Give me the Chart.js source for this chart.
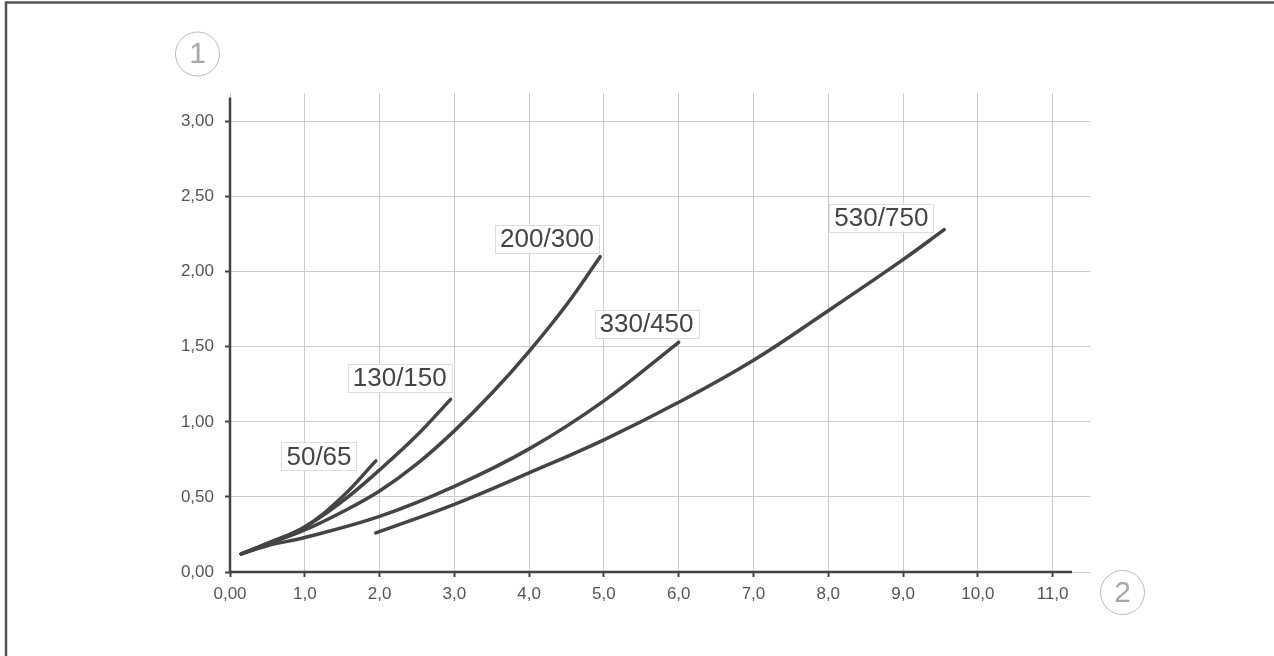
<!DOCTYPE html>
<html>
<head>
<meta charset="utf-8">
<style>
  html, body { margin: 0; padding: 0; background: #fff; }
  #wrap { width: 1274px; height: 656px; position: relative; }
</style>
<script src="https://cdn.jsdelivr.net/npm/chart.js@4.4.0/dist/chart.umd.min.js"></script>
</head>
<body>
<div id="wrap"><canvas id="curves"></canvas></div>
<script>
// tick values and their printed labels
const xTickValues = [0, 1, 2, 3, 4, 5, 6, 7, 8, 9, 10, 11];
const xTickLabels = ['0,00', '1,0', '2,0', '3,0', '4,0', '5,0', '6,0', '7,0', '8,0', '9,0', '10,0', '11,0'];
const yTickValues = [0, 0.5, 1, 1.5, 2, 2.5, 3];
const yTickLabels = ['0,00', '0,50', '1,00', '1,50', '2,00', '2,50', '3,00'];

// curve names
const seriesNames = ['50/65', '130/150', '200/300', '330/450', '530/750'];

// curve points
const x5065 = [0.15, 0.5, 1.0, 1.5, 1.95];
const y5065 = [0.12, 0.19, 0.30, 0.50, 0.74];

const x130150 = [0.15, 0.5, 1.0, 1.5, 2.0, 2.5, 2.95];
const y130150 = [0.12, 0.19, 0.30, 0.47, 0.68, 0.91, 1.15];

const x200300 = [0.15, 0.5, 1.0, 1.5, 2.0, 2.5, 3.0, 3.5, 4.0, 4.5, 4.95];
const y200300 = [0.12, 0.185, 0.28, 0.40, 0.54, 0.72, 0.94, 1.19, 1.47, 1.78, 2.10];

const x330450 = [0.15, 0.5, 1.0, 2.0, 3.0, 4.0, 5.0, 6.0];
const y330450 = [0.12, 0.175, 0.23, 0.37, 0.57, 0.82, 1.14, 1.53];

const x530750 = [1.95, 3.0, 4.0, 5.0, 6.0, 7.0, 8.0, 9.0, 9.55];
const y530750 = [0.26, 0.45, 0.66, 0.88, 1.13, 1.41, 1.74, 2.08, 2.28];

// where each curve name sits (data units)
const labelX = [1.19, 2.27, 4.24, 5.57, 8.71];
const labelY = [0.77, 1.29, 2.22, 1.65, 2.36];

// axis extents
const xAxisEnd = 11.26;
const yAxisEnd = 3.16;

function toPoints(xs, ys) {
    return xs.map((x, i) => ({ x: x, y: ys[i] }));
}

const curveColor = '#444444';
const allSeries = [
    toPoints(x5065, y5065),
    toPoints(x130150, y130150),
    toPoints(x200300, y200300),
    toPoints(x330450, y330450),
    toPoints(x530750, y530750)
];

const decorations = {
    id: 'decorations',
    beforeDraw(chart) {
        const c = chart.ctx;
        c.save();
        c.fillStyle = '#fff';
        c.fillRect(0, 0, chart.width, chart.height);
        // outer frame (top and left only)
        c.strokeStyle = '#555';
        c.lineWidth = 2.5;
        c.beginPath();
        c.moveTo(6, chart.height);
        c.lineTo(6, 2.5);
        c.lineTo(chart.width, 2.5);
        c.stroke();
        c.restore();
    },
    beforeDatasetsDraw(chart) {
        const c = chart.ctx;
        const xs = chart.scales.x, ys = chart.scales.y;
        const x0 = xs.getPixelForValue(0), y0 = ys.getPixelForValue(0);
        c.save();
        c.strokeStyle = '#444';
        c.lineWidth = 2.5;
        c.beginPath();
        c.moveTo(x0, ys.getPixelForValue(yAxisEnd));
        c.lineTo(x0, y0);
        c.lineTo(xs.getPixelForValue(xAxisEnd), y0);
        c.stroke();
        c.restore();
    },
    afterDatasetsDraw(chart) {
        const c = chart.ctx;
        const xs = chart.scales.x, ys = chart.scales.y;
        c.save();
        c.font = '26px "Liberation Sans", Arial, sans-serif';
        c.textAlign = 'center';
        c.textBaseline = 'middle';
        seriesNames.forEach((name, i) => {
            const px = xs.getPixelForValue(labelX[i]);
            const py = ys.getPixelForValue(labelY[i]);
            const w = c.measureText(name).width + 10;
            const h = 28;
            c.fillStyle = '#fff';
            c.fillRect(px - w / 2, py - h / 2, w, h);
            c.strokeStyle = '#ddd';
            c.lineWidth = 1;
            c.strokeRect(Math.round(px - w / 2) + 0.5, Math.round(py - h / 2) + 0.5, Math.round(w), h);
            c.fillStyle = '#444';
            c.fillText(name, px, py + 1);
        });
        c.restore();
    },
    afterDraw(chart) {
        const c = chart.ctx;
        const circles = [
            { t: '1', x: 197.5, y: 54 },
            { t: '2', x: 1122.5, y: 592.5 }
        ];
        c.save();
        circles.forEach(o => {
            c.beginPath();
            c.arc(o.x, o.y, 22, 0, Math.PI * 2);
            c.strokeStyle = '#bbb';
            c.lineWidth = 1;
            c.stroke();
            c.fillStyle = '#a8a8a8';
            c.font = '30px "Liberation Sans", Arial, sans-serif';
            c.textAlign = 'center';
            c.textBaseline = 'middle';
            c.fillText(o.t, o.x, o.y + 1);
        });
        c.restore();
    }
};

const ctx = document.getElementById('curves');

new Chart(ctx, {
    type: 'line',
    data: {
        datasets: allSeries.map((pts, i) => ({
            label: seriesNames[i],
            data: pts,
            borderColor: curveColor,
            borderWidth: 3.5,
            borderCapStyle: 'round',
            pointRadius: 0,
            fill: false,
            tension: 0.4
        }))
    },
    options: {
        responsive: true,
        maintainAspectRatio: false,
        animation: false,
        layout: {
            padding: { left: 170, top: 93, right: 184, bottom: 44 }
        },
        plugins: {
            legend: { display: false },
            tooltip: { enabled: false }
        },
        scales: {
            x: {
                type: 'linear',
                min: 0,
                max: 11.5,
                afterFit: function(scale) { scale.height = 40; },
                afterBuildTicks: function(scale) {
                    scale.ticks = xTickValues.map(v => ({ value: v }));
                },
                border: { display: false },
                grid: {
                    color: '#cccccc',
                    lineWidth: 1,
                    tickColor: '#444',
                    tickLength: 5,
                    tickWidth: 2
                },
                ticks: {
                    padding: 7,
                    maxRotation: 0,
                    autoSkip: false,
                    color: '#555',
                    font: { family: '"Liberation Sans", Arial, sans-serif', size: 17 },
                    callback: function(value, index) {
                        return xTickLabels[index];
                    }
                }
            },
            y: {
                type: 'linear',
                min: 0,
                max: 3.19,
                afterFit: function(scale) { scale.width = 60; },
                afterBuildTicks: function(scale) {
                    scale.ticks = yTickValues.map(v => ({ value: v }));
                },
                border: { display: false },
                grid: {
                    color: '#cccccc',
                    lineWidth: 1,
                    tickColor: '#444',
                    tickLength: 5,
                    tickWidth: 2
                },
                ticks: {
                    padding: 11,
                    autoSkip: false,
                    color: '#555',
                    font: { family: '"Liberation Sans", Arial, sans-serif', size: 17 },
                    callback: function(value, index) {
                        return yTickLabels[index];
                    }
                }
            }
        }
    },
    plugins: [decorations]
});
</script>
</body>
</html>
